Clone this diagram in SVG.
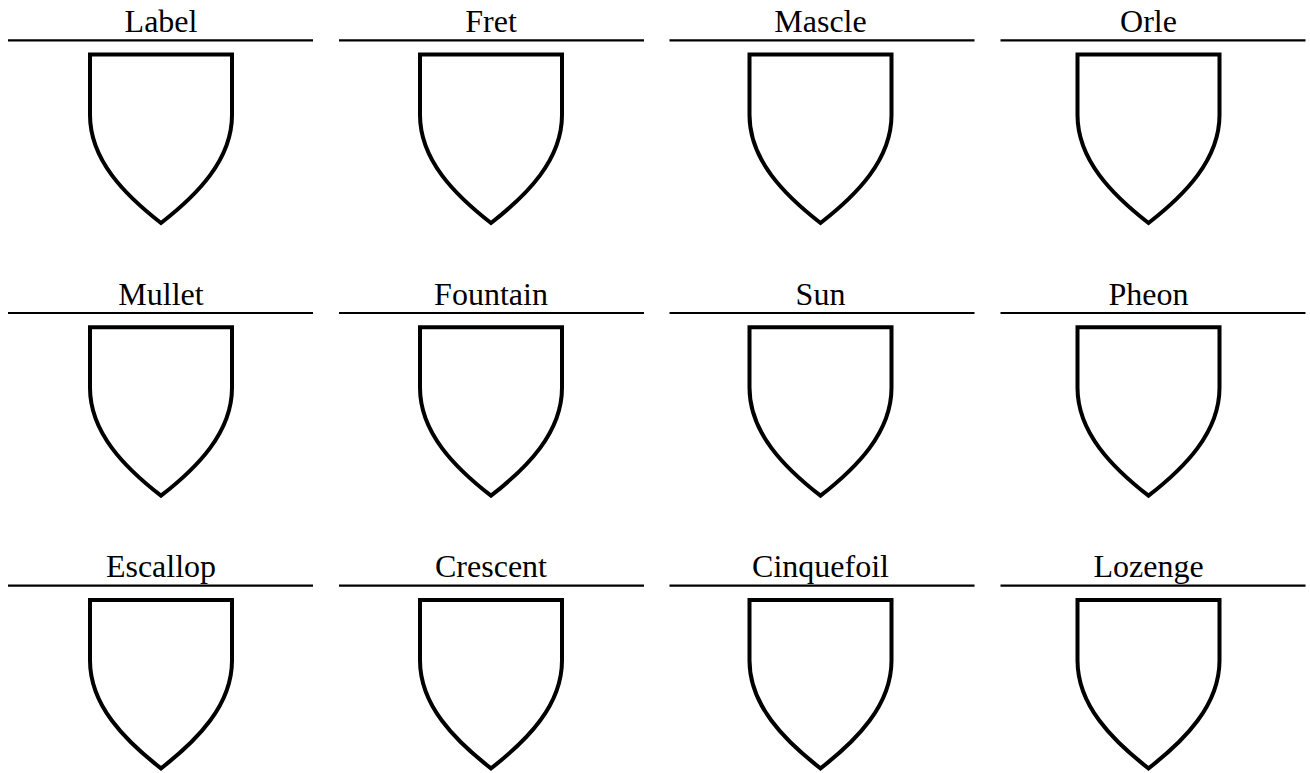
<svg xmlns="http://www.w3.org/2000/svg" width="1310" height="773" viewBox="0 0 1310 773">
<defs>
<style>
.lbl{font-family:"Liberation Serif","Times New Roman",serif;font-size:32px;fill:#000;text-anchor:middle}
.rule{stroke:#000;stroke-width:2.2;fill:none}
.sh{stroke:#000;stroke-width:4;fill:#fff;stroke-linejoin:miter}
</style>
<path id="shield" d="M -71 0 H 71 V 60.5 C 71 105.5 36 140.5 0 168.5 C -36 140.5 -71 105.5 -71 60.5 Z"/>
</defs>
<rect width="1310" height="773" fill="#fff"/>
<g id="n-label"><text class="lbl" x="161" y="32">Label</text><line class="rule" x1="8" y1="40.3" x2="313" y2="40.3"/><use href="#shield" class="sh" transform="translate(161,54.5)"/></g>
<g id="n-fret"><text class="lbl" x="491" y="32">Fret</text><line class="rule" x1="339" y1="40.3" x2="644" y2="40.3"/><use href="#shield" class="sh" transform="translate(491,54.5)"/></g>
<g id="n-mascle"><text class="lbl" x="820.5" y="32">Mascle</text><line class="rule" x1="669.5" y1="40.3" x2="974.5" y2="40.3"/><use href="#shield" class="sh" transform="translate(820.5,54.5)"/></g>
<g id="n-orle"><text class="lbl" x="1148.5" y="32">Orle</text><line class="rule" x1="1000.5" y1="40.3" x2="1305.5" y2="40.3"/><use href="#shield" class="sh" transform="translate(1148.5,54.5)"/></g>

<g id="n-mullet"><text class="lbl" x="161" y="304.7">Mullet</text><line class="rule" x1="8" y1="313" x2="313" y2="313"/><use href="#shield" class="sh" transform="translate(161,327.2)"/></g>
<g id="n-fountain"><text class="lbl" x="491" y="304.7">Fountain</text><line class="rule" x1="339" y1="313" x2="644" y2="313"/><use href="#shield" class="sh" transform="translate(491,327.2)"/></g>
<g id="n-sun"><text class="lbl" x="820.5" y="304.7">Sun</text><line class="rule" x1="669.5" y1="313" x2="974.5" y2="313"/><use href="#shield" class="sh" transform="translate(820.5,327.2)"/></g>
<g id="n-pheon"><text class="lbl" x="1148.5" y="304.7">Pheon</text><line class="rule" x1="1000.5" y1="313" x2="1305.5" y2="313"/><use href="#shield" class="sh" transform="translate(1148.5,327.2)"/></g>

<g id="n-escallop"><text class="lbl" x="161" y="577.4">Escallop</text><line class="rule" x1="8" y1="585.7" x2="313" y2="585.7"/><use href="#shield" class="sh" transform="translate(161,599.9)"/></g>
<g id="n-crescent"><text class="lbl" x="491" y="577.4">Crescent</text><line class="rule" x1="339" y1="585.7" x2="644" y2="585.7"/><use href="#shield" class="sh" transform="translate(491,599.9)"/></g>
<g id="n-cinquefoil"><text class="lbl" x="820.5" y="577.4">Cinquefoil</text><line class="rule" x1="669.5" y1="585.7" x2="974.5" y2="585.7"/><use href="#shield" class="sh" transform="translate(820.5,599.9)"/></g>
<g id="n-lozenge"><text class="lbl" x="1148.5" y="577.4">Lozenge</text><line class="rule" x1="1000.5" y1="585.7" x2="1305.5" y2="585.7"/><use href="#shield" class="sh" transform="translate(1148.5,599.9)"/></g>
<g id="connectors"/>
</svg>
